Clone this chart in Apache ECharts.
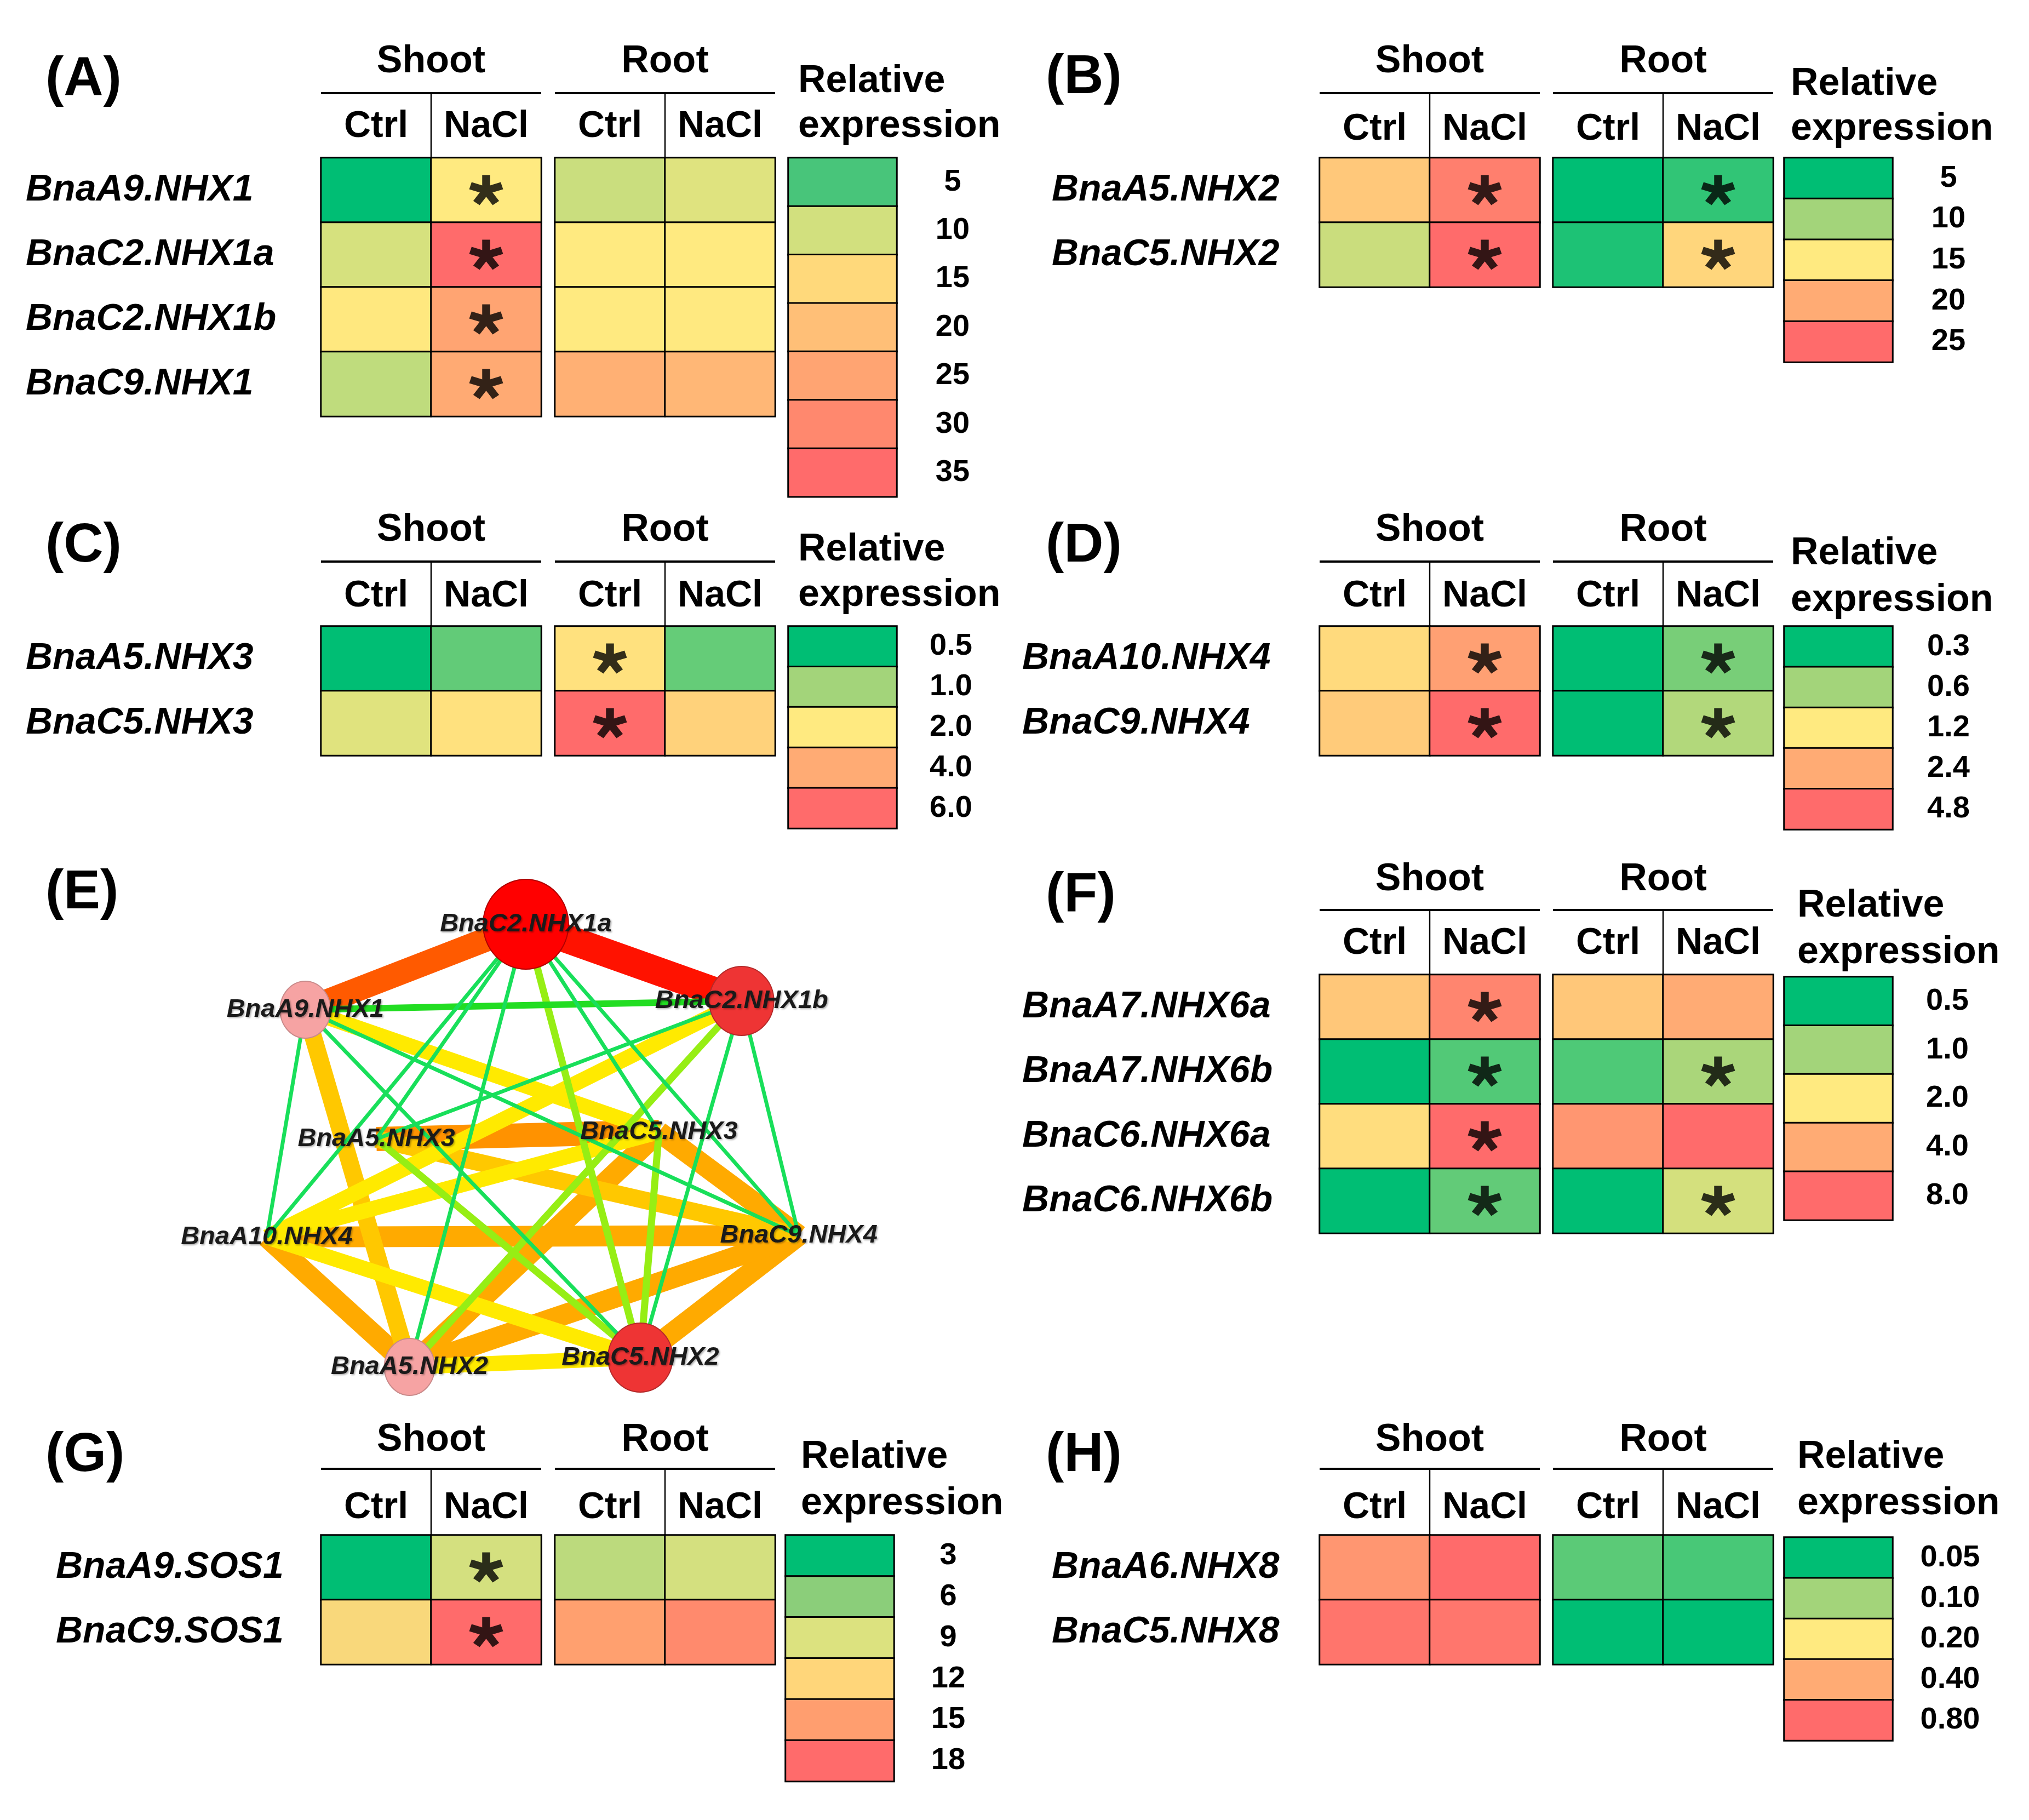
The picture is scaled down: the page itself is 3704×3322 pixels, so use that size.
<!DOCTYPE html>
<html><head><meta charset="utf-8">
<script src="https://cdn.jsdelivr.net/npm/echarts@6/dist/echarts.min.js"></script>
<style>html,body{margin:0;padding:0;background:#fff}#c{width:3704px;height:3322px}</style>
</head><body><div id="c"></div>
<script>
const FONT = 'Liberation Sans, Arial, sans-serif';
const conditions = ['Ctrl', 'NaCl'];

// ---------- Panel A ----------
const genesA = ['BnaA9.NHX1', 'BnaC2.NHX1a', 'BnaC2.NHX1b', 'BnaC9.NHX1'];
const shootCtrlA = [2.5, 10.2, 12.8, 9.3];
const shootNaClA = [12.5, 35, 25, 23.8];
const rootCtrlA = [9.7, 12.5, 12.5, 22.7];
const rootNaClA = [10.7, 12.5, 12.7, 21.5];
const sigA = [[0,0,0,0],[1,1,1,1],[0,0,0,0],[0,0,0,0]];
const ticksA = ['5', '10', '15', '20', '25', '30', '35'];

// ---------- Panel B ----------
const genesB = ['BnaA5.NHX2', 'BnaC5.NHX2'];
const shootCtrlB = [17.7, 12.1];
const shootNaClB = [23.4, 25];
const rootCtrlB = [5, 5.9];
const rootNaClB = [6.5, 16.6];
const sigB = [[0,0],[1,1],[0,0],[1,1]];
const ticksB = ['5', '10', '15', '20', '25'];

// ---------- Panel C ----------
const genesC = ['BnaA5.NHX3', 'BnaC5.NHX3'];
const shootCtrlC = [0.5, 1.66];
const shootNaClC = [0.8, 2.3];
const rootCtrlC = [2.3, 6.0];
const rootNaClC = [0.81, 2.76];
const sigC = [[0,0],[0,0],[1,1],[0,0]];
const ticksC = ['0.5', '1.0', '2.0', '4.0', '6.0'];

// ---------- Panel D ----------
const genesD = ['BnaA10.NHX4', 'BnaC9.NHX4'];
const shootCtrlD = [1.5, 1.8];
const shootNaClD = [2.8, 4.8];
const rootCtrlD = [0.3, 0.3];
const rootNaClD = [0.52, 0.70];
const sigD = [[0,0],[1,1],[0,0],[1,1]];
const ticksD = ['0.3', '0.6', '1.2', '2.4', '4.8'];

// ---------- Panel F ----------
const genesF = ['BnaA7.NHX6a', 'BnaA7.NHX6b', 'BnaC6.NHX6a', 'BnaC6.NHX6b'];
const shootCtrlF = [3.1, 0.5, 2.4, 0.5];
const shootNaClF = [6.4, 0.75, 8, 0.8];
const rootCtrlF = [3.1, 0.74, 5.3, 0.5];
const rootNaClF = [4.0, 1.08, 8, 1.53];
const sigF = [[0,0,0,0],[1,1,1,1],[0,0,0,0],[0,1,0,1]];
const ticksF = ['0.5', '1.0', '2.0', '4.0', '8.0'];

// ---------- Panel G ----------
const genesG = ['BnaA9.SOS1', 'BnaC9.SOS1'];
const shootCtrlG = [3, 11.5];
const shootNaClG = [8.7, 18];
const rootCtrlG = [7.8, 14.9];
const rootNaClG = [8.7, 16.2];
const sigG = [[0,0],[1,1],[0,0],[0,0]];
const ticksG = ['3', '6', '9', '12', '15', '18'];

// ---------- Panel H ----------
const genesH = ['BnaA6.NHX8', 'BnaC5.NHX8'];
const shootCtrlH = [0.53, 0.74];
const shootNaClH = [0.80, 0.73];
const rootCtrlH = [0.078, 0.05];
const rootNaClH = [0.072, 0.05];
const sigH = [[0,0],[0,0],[0,0],[0,0]];
const ticksH = ['0.05', '0.10', '0.20', '0.40', '0.80'];

// ---------- Panel E (co-expression network) ----------
const netNodes = ['BnaC2.NHX1a', 'BnaA9.NHX1', 'BnaC2.NHX1b', 'BnaA5.NHX3', 'BnaC5.NHX3',
                  'BnaA10.NHX4', 'BnaC9.NHX4', 'BnaA5.NHX2', 'BnaC5.NHX2'];
const netNodeX = [5.09, 1.43, 8.67, 2.61, 7.30, 0.79, 9.62, 3.16, 6.99];
const netNodeY = [0.87, 2.43, 2.27, 4.79, 4.66, 6.58, 6.55, 8.95, 8.78];
const netNodeLevel = [3, 1, 2, 0, 0, 0, 0, 1, 2];   // 0 none, 1 low (pink), 2 high, 3 highest
const netEdges = [
  ['BnaC2.NHX1a','BnaC2.NHX1b',9], ['BnaC2.NHX1a','BnaA9.NHX1',8],
  ['BnaA5.NHX3','BnaC5.NHX3',7], ['BnaA10.NHX4','BnaC9.NHX4',6],
  ['BnaA10.NHX4','BnaA5.NHX2',6], ['BnaC9.NHX4','BnaC5.NHX2',6],
  ['BnaC9.NHX4','BnaA5.NHX2',6], ['BnaC5.NHX3','BnaA5.NHX2',6],
  ['BnaC5.NHX3','BnaC9.NHX4',6], ['BnaA5.NHX3','BnaC9.NHX4',5],
  ['BnaA9.NHX1','BnaA5.NHX2',5], ['BnaA5.NHX2','BnaC5.NHX2',4],
  ['BnaA10.NHX4','BnaC5.NHX2',4], ['BnaA10.NHX4','BnaC2.NHX1b',4],
  ['BnaA10.NHX4','BnaC5.NHX3',4], ['BnaA9.NHX1','BnaC5.NHX3',4],
  ['BnaC2.NHX1a','BnaC5.NHX2',3], ['BnaC2.NHX1b','BnaA5.NHX2',3],
  ['BnaA5.NHX3','BnaC5.NHX2',3], ['BnaC5.NHX3','BnaC5.NHX2',3],
  ['BnaA9.NHX1','BnaC2.NHX1b',2],
  ['BnaC2.NHX1a','BnaA5.NHX3',1], ['BnaC2.NHX1a','BnaA10.NHX4',1],
  ['BnaC2.NHX1a','BnaA5.NHX2',1], ['BnaC2.NHX1a','BnaC5.NHX3',1],
  ['BnaC2.NHX1a','BnaC9.NHX4',1], ['BnaC2.NHX1b','BnaA5.NHX3',1],
  ['BnaC2.NHX1b','BnaC5.NHX2',1], ['BnaC2.NHX1b','BnaC9.NHX4',1],
  ['BnaA9.NHX1','BnaC9.NHX4',1], ['BnaA9.NHX1','BnaA10.NHX4',1],
  ['BnaA9.NHX1','BnaC5.NHX2',1]
];

// ---------- styles ----------
const PAL5 = ['#00BE74', '#A3D47A', '#FFEA80', '#FFAB74', '#FF6B6B'];
const PAL_G = ['#00BE74', '#8BCE7A', '#DCE27F', '#FFD67A', '#FF9E6F', '#FF6B6B'];
const stopsA = [2.5, 5, 10, 12.5, 15, 20, 25, 30, 35];
const PAL_A = ['#00BE74', '#48C57A', '#D2E07E', '#FFEA80', '#FFD97B', '#FFBF77', '#FFA472', '#FF886E', '#FF6B6B'];

function hex2rgb(h){ return [parseInt(h.slice(1,3),16), parseInt(h.slice(3,5),16), parseInt(h.slice(5,7),16)]; }
function makeScale(stops, colors){
  const rgb = colors.map(hex2rgb);
  return function(v){
    if (v <= stops[0]) return colors[0];
    if (v >= stops[stops.length-1]) return colors[colors.length-1];
    let i = 0; while (v > stops[i+1]) i++;
    const t = (v - stops[i]) / (stops[i+1] - stops[i]);
    const c = rgb[i].map((a, k) => Math.round(a + (rgb[i+1][k] - a) * t));
    return 'rgb(' + c.join(',') + ')';
  };
}
const num = a => a.map(parseFloat);

const STAR = (function(){
  const L = 46, w = 11; let d = '';
  for (let k = 0; k < 5; k++){
    const a = (-90 + 72*k) * Math.PI / 180;
    const ux = Math.cos(a), uy = Math.sin(a), px = -uy, py = ux;
    const b = -6;
    const pts = [[ux*b - px*w, uy*b - py*w], [ux*b + px*w, uy*b + py*w], [ux*L + px*w, uy*L + py*w], [ux*L - px*w, uy*L - py*w]];
    d += 'M' + pts.map(p => p[0].toFixed(2) + ' ' + p[1].toFixed(2)).join('L') + 'Z';
  }
  return 'path://' + d;
})();

const panels = [
  {id:'A', genes:genesA, cols:[shootCtrlA, shootNaClA, rootCtrlA, rootNaClA], sig:sigA, ticks:ticksA, color:makeScale(stopsA, PAL_A),
   lay:{letter:[83,146], geneX:47, shootX:586, rootX:1013, top:288, legX:1439, legTop:288, legBoxH:88.4, labX:1739, relX:1457, relY:[149,231], titleY:113, lineY:170, subY:231}},
  {id:'B', genes:genesB, cols:[shootCtrlB, shootNaClB, rootCtrlB, rootNaClB], sig:sigB, ticks:ticksB, color:makeScale(num(ticksB), PAL5),
   lay:{letter:[1909,142], geneX:1920, shootX:2409, rootX:2835, top:288, legX:3257, legTop:288, legBoxH:74.6, labX:3557, relX:3269, relY:[154,236], titleY:113, lineY:170, subY:236}},
  {id:'C', genes:genesC, cols:[shootCtrlC, shootNaClC, rootCtrlC, rootNaClC], sig:sigC, ticks:ticksC, color:makeScale(num(ticksC), PAL5),
   lay:{letter:[83,997], geneX:47, shootX:586, rootX:1013, top:1143, legX:1439, legTop:1143, legBoxH:73.8, labX:1736, relX:1457, relY:[1004,1087], titleY:968, lineY:1025, subY:1088}},
  {id:'D', genes:genesD, cols:[shootCtrlD, shootNaClD, rootCtrlD, rootNaClD], sig:sigD, ticks:ticksD, color:makeScale(num(ticksD), PAL5),
   lay:{letter:[1909,997], geneX:1866, shootX:2409, rootX:2835, top:1143, legX:3257, legTop:1143, legBoxH:74.2, labX:3557, relX:3269, relY:[1011,1096], titleY:968, lineY:1025, subY:1088}},
  {id:'F', genes:genesF, cols:[shootCtrlF, shootNaClF, rootCtrlF, rootNaClF], sig:sigF, ticks:ticksF, color:makeScale(num(ticksF), PAL5),
   lay:{letter:[1909,1635], geneX:1866, shootX:2409, rootX:2835, top:1779, legX:3257, legTop:1783, legBoxH:88.8, labX:3555, relX:3281, relY:[1654,1739], titleY:1606, lineY:1661, subY:1722}},
  {id:'G', genes:genesG, cols:[shootCtrlG, shootNaClG, rootCtrlG, rootNaClG], sig:sigG, ticks:ticksG, color:makeScale(num(ticksG), PAL_G),
   lay:{letter:[83,2657], geneX:102, shootX:586, rootX:1013, top:2802, legX:1434, legTop:2802, legBoxH:74.9, labX:1731, relX:1462, relY:[2660,2745], titleY:2629, lineY:2681, subY:2752}},
  {id:'H', genes:genesH, cols:[shootCtrlH, shootNaClH, rootCtrlH, rootNaClH], sig:sigH, ticks:ticksH, color:makeScale(num(ticksH), PAL5),
   lay:{letter:[1909,2657], geneX:1920, shootX:2409, rootX:2835, top:2802, legX:3257, legTop:2806, legBoxH:74.2, labX:3560, relX:3281, relY:[2660,2745], titleY:2629, lineY:2681, subY:2752}}
];

const COLW = 201, ROWH = 118, LEGW = 198;
const grid = [], xAxis = [], yAxis = [], series = [], graphic = [];
function txt(text, x, y, size, align, extra){
  graphic.push({type:'text', silent:true, style:Object.assign({text, x, y, font:'bold ' + size + 'px ' + FONT, fill:'#000',
    textAlign:align, textVerticalAlign:'middle', align:align, verticalAlign:'middle'}, extra || {})});
}
function line(x1, y1, x2, y2, w){
  graphic.push({type:'line', silent:true, shape:{x1, y1, x2, y2}, style:{stroke:'#000', lineWidth:w}});
}
const hidden = {axisLine:{show:false}, axisTick:{show:false}, splitLine:{show:false}};

panels.forEach(p => {
  const lay = p.lay, n = p.genes.length;
  txt('(' + p.id + ')', lay.letter[0], lay.letter[1], 100, 'left');
  [['Shoot', lay.shootX, 0], ['Root', lay.rootX, 2]].forEach(([title, gx, c0], gi) => {
    grid.push({left:gx, top:lay.top, width:2*COLW, height:n*ROWH});
    const gIdx = grid.length - 1;
    xAxis.push(Object.assign({gridIndex:gIdx, type:'category', data:conditions, position:'top',
      axisLabel:{interval:0, fontFamily:FONT, fontSize:68, fontWeight:'bold', color:'#000', margin:lay.top - lay.subY, verticalAlign:'middle'}}, hidden));
    yAxis.push(Object.assign({gridIndex:gIdx, type:'category', data:p.genes, inverse:true,
      axisLabel: gi === 0 ? {interval:0, fontFamily:FONT, fontSize:68, fontWeight:'bold', fontStyle:'italic', color:'#000', align:'left', margin:gx - lay.geneX}
                          : {show:false}}, hidden));
    const data = [];
    for (let c = 0; c < 2; c++) for (let r = 0; r < n; r++){
      const v = p.cols[c0 + c][r];
      data.push({value:[c, r, v], itemStyle:{color:p.color(v)}});
    }
    series.push({type:'heatmap', xAxisIndex:gIdx, yAxisIndex:gIdx, data, silent:true,
      itemStyle:{borderColor:'#000', borderWidth:3}, emphasis:{disabled:true}});
    const stars = [];
    for (let c = 0; c < 2; c++) for (let r = 0; r < n; r++) if (p.sig[c0 + c][r]) stars.push([c, r]);
    if (stars.length) series.push({type:'scatter', xAxisIndex:gIdx, yAxisIndex:gIdx, data:stars, symbol:STAR,
      symbolSize:[62, 58], symbolKeepAspect:true, itemStyle:{color:'#000'}, silent:true, z:5});
    txt(title, gx + COLW, lay.titleY, 70, 'center');
    line(gx, lay.lineY, gx + 2*COLW, lay.lineY, 4);
    line(gx + COLW, lay.lineY, gx + COLW, lay.top, 2.5);
  });
  // colour-scale legend
  const k = p.ticks.length;
  grid.push({left:lay.legX, top:lay.legTop, width:LEGW, height:k*lay.legBoxH});
  const lg = grid.length - 1;
  xAxis.push({gridIndex:lg, type:'category', data:['scale'], show:false});
  yAxis.push(Object.assign({gridIndex:lg, type:'category', data:p.ticks, inverse:true, position:'right',
    axisLabel:{interval:0, fontFamily:FONT, fontSize:56, fontWeight:'bold', color:'#000', align:'center', margin:lay.labX - (lay.legX + LEGW)}}, hidden));
  series.push({type:'heatmap', xAxisIndex:lg, yAxisIndex:lg, silent:true, emphasis:{disabled:true},
    data:p.ticks.map((t, i) => ({value:[0, i, parseFloat(t)], itemStyle:{color:p.color(parseFloat(t))}})),
    itemStyle:{borderColor:'#000', borderWidth:3}});
  txt('Relative', lay.relX, lay.relY[0], 70, 'left');
  txt('expression', lay.relX, lay.relY[1], 70, 'left');
});

// ---------- network (E) ----------
txt('(E)', 83, 1630, 100, 'left');
grid.push({left:400, top:1600, width:1100, height:1000});
const ng = grid.length - 1;
xAxis.push({gridIndex:ng, type:'value', min:0, max:10, show:false});
yAxis.push({gridIndex:ng, type:'value', min:0, max:10, inverse:true, show:false});
const nodeStyle = {
  0:{size:1, color:'rgba(0,0,0,0)', border:'rgba(0,0,0,0)'},
  1:{size:[92,104], color:'#F6A3A3', border:'#C98A8A'},
  2:{size:[118,126], color:'#EE3434', border:'#B52A2A'},
  3:{size:[156,164], color:'#FF0000', border:'#B00000'}
};
const edgeColor = {1:'#18DF5A', 2:'#22DD22', 3:'#96EE14', 4:'#FFEA00', 5:'#FFC800', 6:'#FFAA00', 7:'#FF9200', 8:'#FF5A00', 9:'#FF1200'};
const edgeWidth = {1:7, 2:12, 3:13, 4:28, 5:32, 6:38, 7:44, 8:44, 9:52};
const nodeIndex = {}; netNodes.forEach((n, i) => nodeIndex[n] = i);
// edges drawn with a lines series through the same cartesian axes
series.push({
  type:'lines', coordinateSystem:'cartesian2d', xAxisIndex:ng, yAxisIndex:ng, silent:true, z:2,
  data: netEdges.map(e => {
    const a = nodeIndex[e[0]], b = nodeIndex[e[1]];
    return {coords:[[netNodeX[a], netNodeY[a]], [netNodeX[b], netNodeY[b]]],
            lineStyle:{color:edgeColor[e[2]], width:edgeWidth[e[2]], opacity:1, curveness:0}};
  })
});
series.push({
  type:'graph', coordinateSystem:'cartesian2d', xAxisIndex:ng, yAxisIndex:ng, silent:true,
  emphasis:{disabled:true},
  data: netNodes.map((name, i) => {
    const s = nodeStyle[netNodeLevel[i]];
    return {name, value:[netNodeX[i], netNodeY[i]], symbol:'circle', symbolSize:s.size,
      itemStyle:{color:s.color, borderColor:s.border, borderWidth:netNodeLevel[i] ? 2 : 0}};
  }),
  links: [],
  label:{show:true, position:'inside', fontFamily:FONT, fontSize:47, fontStyle:'italic', fontWeight:'bold', color:'#1a1a1a',
    textShadowColor:'rgba(0,0,0,0.3)', textShadowBlur:3, textShadowOffsetX:2, textShadowOffsetY:2,
    formatter: p => p.name},
  z:3
});

const chart = echarts.init(document.getElementById('c'), null, {renderer:'canvas'});
chart.setOption({animation:false, backgroundColor:'#fff', grid, xAxis, yAxis, series, graphic});
</script></body></html>
